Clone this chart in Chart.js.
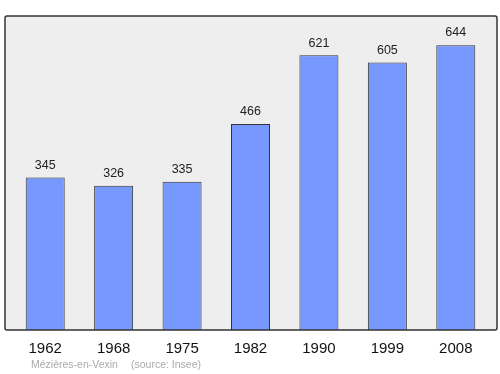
<!DOCTYPE html>
<html>
<head>
<meta charset="utf-8">
<script src="https://cdn.jsdelivr.net/npm/chart.js@4"></script>
<style>
  html, body { margin: 0; padding: 0; background: #fff; }
  #wrap { width: 500px; height: 374px; }
</style>
</head>
<body>
<div id="wrap"><canvas id="graph"></canvas></div>
<script>
// données
const annees = ["1962", "1968", "1975", "1982", "1990", "1999", "2008"];
const population = [345, 326, 335, 466, 621, 605, 644];
const commune = "Mézières-en-Vexin";
const source = "(source: Insee)";

// cadre gris + étiquettes des valeurs + pied de page
const decor = {
    id: "decor",
    beforeDatasetsDraw(chart) {
        const ctx = chart.ctx;
        ctx.save();
        ctx.fillStyle = "#eeeeee";
        ctx.beginPath();
        ctx.roundRect(5, 16, 492, 314, 2);
        ctx.fill();
        ctx.restore();
    },
    afterDatasetsDraw(chart) {
        const ctx = chart.ctx;
        ctx.save();
        ctx.strokeStyle = "#333";
        ctx.lineWidth = 1.5;
        ctx.beginPath();
        ctx.roundRect(5, 16, 492, 314, 2);
        ctx.stroke();

        ctx.fillStyle = "#222";
        ctx.font = "12.5px 'Liberation Sans', Arial, sans-serif";
        ctx.textAlign = "center";
        ctx.textBaseline = "bottom";
        chart.getDatasetMeta(0).data.forEach((bar, i) => {
            ctx.fillText(population[i], bar.x, bar.y - 6);
        });

        ctx.fillStyle = "#aaaaaa";
        ctx.font = "10.5px 'Liberation Sans', Arial, sans-serif";
        ctx.textAlign = "left";
        ctx.textBaseline = "middle";
        ctx.fillText(commune, 31, 365);
        ctx.fillText(source, 131, 365);
        ctx.restore();
    }
};

new Chart(document.getElementById("graph").getContext("2d"), {
    type: "bar",
    data: {
        labels: annees,
        datasets: [{
            data: population,
            backgroundColor: "#7799ff",
            borderColor: "#333",
            borderWidth: 1,
            categoryPercentage: 0.57,
            barPercentage: 1
        }]
    },
    options: {
        responsive: true,
        maintainAspectRatio: false,
        animation: false,
        layout: { padding: { left: 11, right: 10, top: 16, bottom: 6 } },
        plugins: { legend: { display: false }, tooltip: { enabled: false } },
        scales: {
            x: {
                grid: { display: false, drawTicks: false },
                border: { display: false },
                ticks: {
                    padding: 10,
                    color: "#111",
                    font: { family: "'Liberation Sans', Arial, sans-serif", size: 15 }
                }
            },
            y: { display: false, min: 0, max: 710 }
        }
    },
    plugins: [decor]
});
</script>
</body>
</html>
